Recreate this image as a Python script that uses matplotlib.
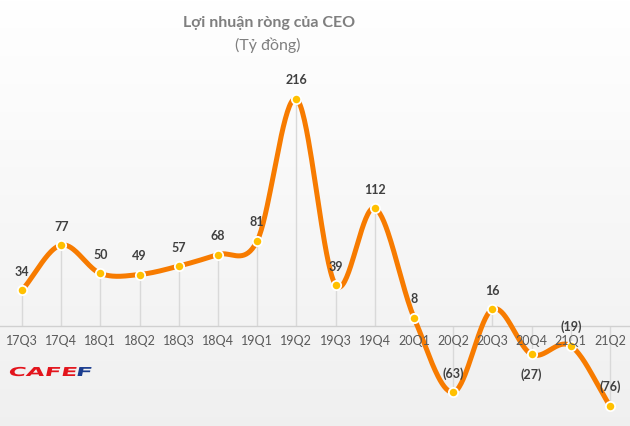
import numpy as np
import matplotlib
matplotlib.use("Agg")
import matplotlib.pyplot as plt
from matplotlib.textpath import TextPath
from matplotlib.patches import PathPatch
from matplotlib.font_manager import FontProperties
from matplotlib.transforms import Affine2D, IdentityTransform

categories = ["17Q3", "17Q4", "18Q1", "18Q2", "18Q3", "18Q4", "19Q1", "19Q2",
              "19Q3", "19Q4", "20Q1", "20Q2", "20Q3", "20Q4", "21Q1", "21Q2"]
values = [34, 77, 50, 49, 57, 68, 81, 216, 39, 112, 8, -63, 16, -27, -19, -76]
labels = ["34", "77", "50", "49", "57", "68", "81", "216", "39", "112", "8",
          "(63)", "16", "(27)", "(19)", "(76)"]
label_below = [False] * 13 + [True, False, False]

title = "Lợi nhuận ròng của CEO"
subtitle = "(Tỷ đồng)"

FONT = ["Lato", "DejaVu Sans"]
plt.rcParams["font.family"] = FONT

W, H = 630, 426
fig = plt.figure(figsize=(W / 100, H / 100), dpi=100)

# background gradient
bg = fig.add_axes([0, 0, 1, 1], zorder=0)
grad = np.linspace(1.0, 0.0, 256).reshape(-1, 1)
top = np.array([1.0, 1.0, 1.0])
bot = np.array([0.94, 0.94, 0.94])
img = top * grad[..., None] + bot * (1 - grad[..., None])
bg.imshow(img, aspect="auto", extent=[0, 1, 0, 1])
bg.axis("off")

ax = fig.add_axes([0, 0, 1, 1], zorder=1)
ax.patch.set_alpha(0)
x0, dx = 22, 39.2
y0, sy = 326, 1.051
ax.set_xlim(-x0 / dx, (W - x0) / dx)
ax.set_ylim((y0 - H) / sy, y0 / sy)
ax.axis("off")

x = np.arange(len(values))
v = np.array(values, dtype=float)

# drop lines and axis
ax.vlines(x, 0, v, color="#d9d9d9", lw=1, zorder=1)
ax.axhline(0, color="#d0d0d0", lw=1, zorder=1)


# Catmull-Rom smooth line
def catmull(xs, ys, n=40):
    px = np.concatenate([[2 * xs[0] - xs[1]], xs, [2 * xs[-1] - xs[-2]]])
    py = np.concatenate([[2 * ys[0] - ys[1]], ys, [2 * ys[-1] - ys[-2]]])
    ox, oy = [], []
    for i in range(1, len(px) - 2):
        t = np.linspace(0, 1, n)
        for arr, out in ((px, ox), (py, oy)):
            p0, p1, p2, p3 = arr[i - 1], arr[i], arr[i + 1], arr[i + 2]
            out.extend(0.5 * ((2 * p1) + (-p0 + p2) * t
                              + (2 * p0 - 5 * p1 + 4 * p2 - p3) * t ** 2
                              + (-p0 + 3 * p1 - 3 * p2 + p3) * t ** 3))
    return np.array(ox), np.array(oy)


sx_, sy_ = catmull(x.astype(float), v)
ax.plot(sx_, sy_, color="#f77b00", lw=3.6, solid_capstyle="round", zorder=2)
ax.scatter(x, v, s=45, color="#ffc000", edgecolors="white", linewidths=1.3, zorder=3)

for xi, vi, lab, below in zip(x, v, labels, label_below):
    if below:
        ax.annotate(lab, (xi, vi), xytext=(0, -10), textcoords="offset points",
                    ha="center", va="top", fontsize=9, fontweight="bold",
                    color="#404040", zorder=4)
    else:
        ax.annotate(lab, (xi, vi), xytext=(0, 9), textcoords="offset points",
                    ha="center", va="bottom", fontsize=9, fontweight="bold",
                    color="#404040", zorder=4)

for xi, c in zip(x, categories):
    ax.text(xi, (y0 - 341) / sy, c, ha="center", va="center", fontsize=9,
            color="#595959", zorder=4)

fig.text(269 / W, 1 - 23 / H, title, ha="center", va="center", fontsize=11.5,
         fontweight="bold", color="#7f7f7f")
fig.text(268 / W, 1 - 45 / H, subtitle, ha="center", va="center", fontsize=11.5,
         color="#7f7f7f")

# CAFEF logo (stretched text paths)
fp = FontProperties(family="DejaVu Sans", weight="bold")
xpos = 9.0
for part, col in (("CAFE", "#e3141c"), ("F", "#1b3d8f")):
    tp = TextPath((0, 0), part, size=12.3, prop=fp)
    ext = tp.get_extents()
    tr = (Affine2D().translate(-ext.x0, 0).scale(1.95, 1.0)
          .skew_deg(12, 0).translate(xpos, H - 376))
    patch = PathPatch(tr.transform_path(tp), facecolor=col, edgecolor="none",
                      transform=IdentityTransform(), zorder=5)
    fig.add_artist(patch)
    xpos += ext.width * 1.95 + 2.5

fig.savefig("out.png", dpi=100)
